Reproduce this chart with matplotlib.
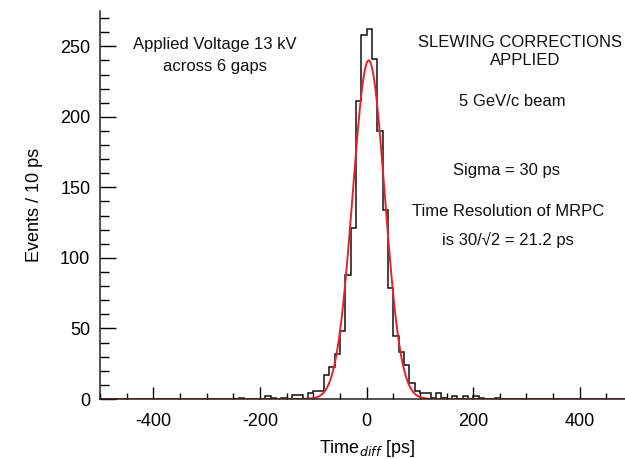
import numpy as np
import matplotlib
matplotlib.use('Agg')
import matplotlib.pyplot as plt
from matplotlib.ticker import MultipleLocator

plt.rcParams['font.family'] = ['Liberation Sans', 'DejaVu Sans']
plt.rcParams['axes.unicode_minus'] = False

# histogram: lower bin edges (ps) and counts per 10 ps bin (all other bins empty)
bin_lo = [-240, -190, -180, -160, -140, -130, -110, -100, -90, -80, -70, -60, -50, -40, -30, -20, -10,
          0, 10, 20, 30, 40, 50, 60, 70, 80, 90, 100, 110, 120, 130, 140, 160, 180, 200, 210, 240]
counts = [1, 2, 1, 1, 3, 3, 4, 6, 6, 17, 23, 32, 48, 88, 121, 211, 258,
          262, 241, 190, 134, 79, 45, 33, 24, 11, 6, 4, 4, 1, 4, 1, 2, 2, 2, 1, 1]

# gaussian fit
fit_amp = 240.0
fit_mean = 4.0
fit_sigma = 30.0

edges = np.arange(-500, 510, 10)
full = np.zeros(len(edges) - 1)
for lo, c in zip(bin_lo, counts):
    full[int((lo + 500) // 10)] = c

fig = plt.figure(figsize=(6.25, 4.59), dpi=100)
ax = fig.add_axes([0.16, 0.1307, 0.853, 0.8453])

ax.stairs(full, edges, color='#111111', linewidth=1.1)

xs = np.linspace(-500, 500, 2001)
ax.plot(xs, fit_amp * np.exp(-0.5 * ((xs - fit_mean) / fit_sigma) ** 2), color='#e8202a', linewidth=1.4)

ax.set_xlim(-500, 500)
ax.set_ylim(0, 275)

ax.xaxis.set_major_locator(MultipleLocator(200))
ax.xaxis.set_minor_locator(MultipleLocator(50))
ax.yaxis.set_major_locator(MultipleLocator(50))
ax.yaxis.set_minor_locator(MultipleLocator(10))

ax.tick_params(axis='x', which='major', direction='in', length=8.5, width=1, labelsize=13, pad=10)
ax.tick_params(axis='x', which='minor', direction='in', length=4, width=1)
ax.tick_params(axis='y', which='major', direction='in', length=11.5, width=1, labelsize=13, pad=7)
ax.tick_params(axis='y', which='minor', direction='in', length=6.5, width=1)

for s in ['top', 'right']:
    ax.spines[s].set_visible(False)
for s in ['left', 'bottom']:
    ax.spines[s].set_linewidth(1.1)
    ax.spines[s].set_color('#222222')

ax.set_xlabel('Time$_{diff}$ [ps]', fontsize=13, labelpad=6)
ax.set_ylabel('Events / 10 ps', fontsize=13, labelpad=12)

txt = dict(fontsize=12, ha='center', va='center', color='#111111')
ax.text(-284, 251, 'Applied Voltage 13 kV', **txt)
ax.text(-284, 236, 'across 6 gaps', **txt)
ax.text(287, 253, 'SLEWING CORRECTIONS', **txt)
ax.text(297, 240, 'APPLIED', **txt)
ax.text(273, 211, '5 GeV/c beam', **txt)
ax.text(262, 162, 'Sigma = 30 ps', **txt)
ax.text(265, 133, 'Time Resolution of MRPC', **txt)
ax.text(265, 113, 'is 30/\u221a2 = 21.2 ps', **txt)

fig.savefig('out.png', dpi=100)
